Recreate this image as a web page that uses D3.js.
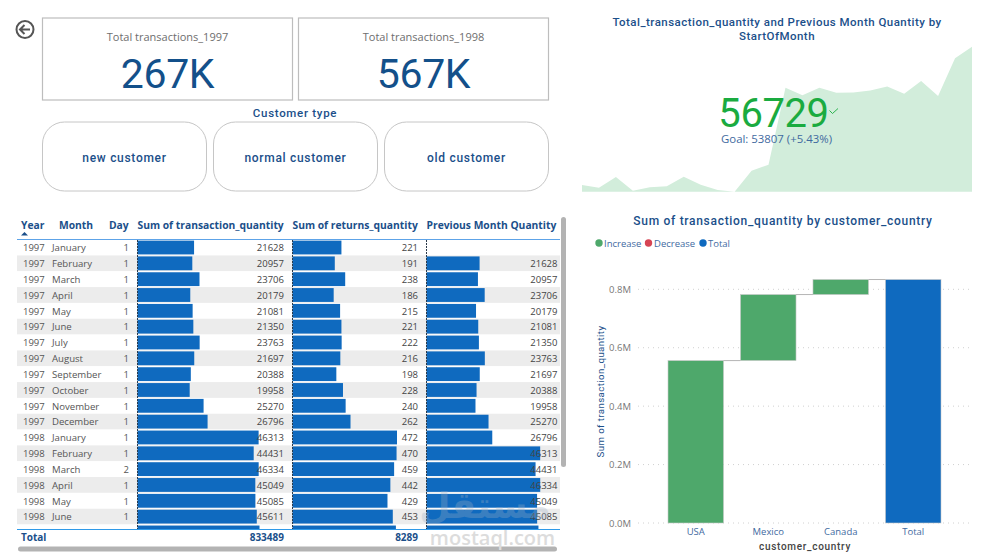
<!DOCTYPE html>
<html>
<head>
<meta charset="utf-8">
<script src="https://cdn.jsdelivr.net/npm/d3@7"></script>
<style>
html, body { margin: 0; padding: 0; background: #fff; overflow: hidden; }
svg { display: block; }
text { font-family: "Open Sans", sans-serif; }
.din { font-family: Roboto, sans-serif; letter-spacing: 0.7px; }
.axisTxt text { font-family: "Open Sans", sans-serif; font-size: 9.5px; }
</style>
</head>
<body>
<svg id="page" width="987" height="559"></svg>
<script>
// table data
var years = ["1997","1997","1997","1997","1997","1997","1997","1997","1997","1997","1997","1997","1998","1998","1998","1998","1998","1998","1998"];
var months = ["January","February","March","April","May","June","July","August","September","October","November","December","January","February","March","April","May","June","July"];
var days = [1,1,1,1,1,1,1,1,1,1,1,1,1,1,2,1,1,1,1];
var transQty = [21628,20957,23706,20179,21081,21350,23763,21697,20388,19958,25270,26796,46313,44431,46334,45049,45085,45611,46650];
var returnQty = [221,191,238,186,215,221,222,216,198,228,240,262,472,470,459,442,429,453,467];
var prevQty = [null,21628,20957,23706,20179,21081,21350,23763,21697,20388,19958,25270,26796,46313,44431,46334,45049,45085,45611];
// last row is cut off by the total row, only its bars show
var labelRows = 18;

// kpi area data, 24 months
var areaQty = [21628,20957,23706,20179,21081,21350,23763,21697,20388,19958,25270,26796,46313,44431,46334,45049,45085,45611,46650,44800,48000,44200,53807,56729];

// waterfall data
var countries = ["USA","Mexico","Canada","Total"];
var countryQty = [556000,226000,51489];
var countryTotal = 833489;
var yTicks = [0,200000,400000,600000,800000];

var navy = "#1b4f8a";
var blue = "#0f6abf";
var green = "#4ea86b";
var svg = d3.select("#page");

var addText = function(txt, x, y, size, color, anchor, cls, weight){
    return svg.append("text")
    .attr("x",x)
    .attr("y",y)
    .attr("font-size",size)
    .attr("fill",color)
    .attr("text-anchor",anchor || "start")
    .attr("class",cls || null)
    .attr("font-weight",weight || null)
    .text(txt);
}

var drawCards = function(){
    // back button
    svg.append("circle").attr("cx",25).attr("cy",29.5).attr("r",8.5)
    .attr("fill","none").attr("stroke","#555").attr("stroke-width",2);
    svg.append("path").attr("d","M30 29.5H20.5M24.5 25L20 29.5L24.5 34")
    .attr("fill","none").attr("stroke","#555").attr("stroke-width",2);

    var cards = [
        {x:42.5, label:"Total transactions_1997", value:"267K"},
        {x:298.5, label:"Total transactions_1998", value:"567K"}
    ];
    cards.forEach(function(c){
        svg.append("rect").attr("x",c.x).attr("y",18).attr("width",250).attr("height",82)
        .attr("fill","#fff").attr("stroke","#bdbdbd").attr("stroke-width",1.2);
        addText(c.label,c.x+125,41,11,"#6e6e6e","middle");
        addText(c.value,c.x+125,88,41,"#13508a","middle","din").style("letter-spacing","-0.4px");
    });

    addText("Customer type",295,117,11.5,navy,"middle","din","500");

    var buttons = [
        {x:42.5, label:"new customer"},
        {x:213.5, label:"normal customer"},
        {x:384.5, label:"old customer"}
    ];
    buttons.forEach(function(b){
        svg.append("rect").attr("x",b.x).attr("y",122).attr("width",164).attr("height",69)
        .attr("rx",22).attr("fill","#fff").attr("stroke","#c6c6c6");
        addText(b.label,b.x+82,161.5,12,navy,"middle","din","500");
    });
}

var drawTable = function(){
    var rowY = d3.scaleBand()
    .domain(d3.range(years.length))
    .range([239.6,239.6+15.83*years.length]);

    var xTrans = d3.scaleLinear().domain([0,d3.max(transQty)]).range([0,122]);
    var xRet = d3.scaleLinear().domain([0,d3.max(returnQty)]).range([0,104.5]);
    var xPrev = d3.scaleLinear().domain([0,d3.max(transQty)]).range([0,114.5]);

    svg.append("clipPath").attr("id","bodyClip").append("rect")
    .attr("x",17).attr("y",239).attr("width",544).attr("height",290);

    var body = svg.append("g").attr("clip-path","url(#bodyClip)");

    var rows = body.selectAll("g.row")
    .data(years)
    .enter()
    .append("g")
    .attr("class","row")
    .attr("transform",function(d,i){ return "translate(0,"+rowY(i)+")"; });

    rows.append("rect")
    .attr("x",17).attr("width",543).attr("height",rowY.bandwidth())
    .attr("fill",function(d,i){ return i%2==1 ? "#ececec" : "#fff"; });

    var barCols = [
        {x:137.5, vals:transQty, scale:xTrans, right:284},
        {x:292.5, vals:returnQty, scale:xRet, right:418},
        {x:426.5, vals:prevQty, scale:xPrev, right:557.5}
    ];

    var labelled = rows.filter(function(d,i){ return i<labelRows; });

    barCols.forEach(function(col){
        rows.append("rect")
        .attr("x",col.x)
        .attr("y",1)
        .attr("height",rowY.bandwidth()-2)
        .attr("width",function(d,i){ return col.vals[i]==null ? 0 : col.scale(col.vals[i]); })
        .attr("fill",blue);

        body.append("line")
        .attr("x1",col.x).attr("x2",col.x).attr("y1",240).attr("y2",529)
        .attr("stroke","#2b3a4a").attr("stroke-width",1).attr("stroke-dasharray","2 1");
    });

    barCols.forEach(function(col){
        labelled.append("text")
        .attr("x",col.right).attr("y",11.7)
        .attr("text-anchor","end").attr("font-size",9.5).attr("fill","#444")
        .text(function(d,i){ return col.vals[i]==null ? "" : col.vals[i]; });
    });

    labelled.append("text").attr("x",23).attr("y",11.7).attr("font-size",9.5).attr("fill","#555")
    .text(function(d){ return d; });
    labelled.append("text").attr("x",52).attr("y",11.7).attr("font-size",9.6).attr("fill","#555")
    .text(function(d,i){ return months[i]; });
    labelled.append("text").attr("x",129).attr("y",11.7).attr("font-size",9.5).attr("fill","#555")
    .attr("text-anchor","end")
    .text(function(d,i){ return days[i]; });

    // headers
    var headers = [
        {t:"Year", x:21},
        {t:"Month", x:59},
        {t:"Day", x:109},
        {t:"Sum of transaction_quantity", x:137.5},
        {t:"Sum of returns_quantity", x:292.5},
        {t:"Previous Month Quantity", x:426.5}
    ];
    headers.forEach(function(h){
        addText(h.t,h.x,228.5,10.3,navy,"start",null,"700");
    });
    svg.append("path").attr("d","M21 235.5L24.5 232L28 235.5Z").attr("fill",navy);
    svg.append("line").attr("x1",17).attr("x2",560).attr("y1",239.5).attr("y2",239.5)
    .attr("stroke","#5da3e8").attr("stroke-width",1);

    // total row
    svg.append("line").attr("x1",17).attr("x2",560).attr("y1",529.5).attr("y2",529.5)
    .attr("stroke","#2f9ae8").attr("stroke-width",1.2);
    addText("Total",21,541,10,navy,"start",null,"700");
    addText("833489",284,541,10,navy,"end",null,"700");
    addText("8289",418,541,10,navy,"end",null,"700");

    // scrollbars
    svg.append("rect").attr("x",561).attr("y",217).attr("width",5).attr("height",250)
    .attr("rx",2.5).attr("fill","#b3b3b3");
    svg.append("rect").attr("x",18).attr("y",546.5).attr("width",539).attr("height",5)
    .attr("rx",2.5).attr("fill","#b3b3b3");
}

var drawKpi = function(){
    var x = d3.scaleLinear().domain([0,areaQty.length-1]).range([582,972]);
    var y = d3.scaleLinear().domain([19958,56729]).range([191.7,46.7]);
    var area = d3.area()
    .x(function(d,i){ return x(i); })
    .y0(191.7)
    .y1(function(d){ return y(d); });

    svg.append("path").datum(areaQty).attr("d",area).attr("fill","#d2eddb");

    addText("Total_transaction_quantity and Previous Month Quantity by",777,26,11.5,navy,"middle","din","500").style("letter-spacing","0.47px");
    addText("StartOfMonth",777,40,11.5,navy,"middle","din","500").style("letter-spacing","0.47px");

    addText("56729",773.5,127,40,"#1aab40","middle","din").style("letter-spacing","-0.4px");
    svg.append("path").attr("d","M829.5 110.5L832.5 113.5L838 108.5")
    .attr("fill","none").attr("stroke","#1aab40").attr("stroke-width",0.9);
    addText("Goal: 53807 (+5.43%)",721,143,11.4,"#3f6a9f","start");
}

var drawWaterfall = function(){
    addText("Sum of transaction_quantity by customer_country",783,225,12,navy,"middle","din","500");

    var legend = [
        {t:"Increase", c:green, cx:599, tx:604},
        {t:"Decrease", c:"#d64554", cx:648.5, tx:654},
        {t:"Total", c:blue, cx:703, tx:708}
    ];
    legend.forEach(function(l){
        svg.append("circle").attr("cx",l.cx).attr("cy",243).attr("r",3.7).attr("fill",l.c);
        addText(l.t,l.tx,247,9.5,"#3f6a9f","start");
    });

    var x = d3.scaleBand().domain(countries).range([668,941]).paddingInner(0.234);
    var y = d3.scaleLinear().domain([0,800000]).range([523,289.3]);

    // grid lines
    svg.append("g").selectAll("line")
    .data(yTicks)
    .enter()
    .append("line")
    .attr("x1",638).attr("x2",970)
    .attr("y1",function(d){ return y(d); })
    .attr("y2",function(d){ return y(d); })
    .attr("stroke","#d0d0d0")
    .attr("stroke-dasharray","1 4");

    // running totals for the waterfall steps
    var steps = [];
    var run = 0;
    countryQty.forEach(function(q,i){
        steps.push({name:countries[i], start:run, end:run+q, color:green});
        run = run+q;
    });
    steps.push({name:"Total", start:0, end:countryTotal, color:blue});

    svg.append("g").selectAll("rect")
    .data(steps)
    .enter()
    .append("rect")
    .attr("x",function(d){ return x(d.name); })
    .attr("width",x.bandwidth())
    .attr("y",function(d){ return y(d.end); })
    .attr("height",function(d){ return y(d.start)-y(d.end); })
    .attr("fill",function(d){ return d.color; })
    .attr("stroke","#c8c8c8")
    .attr("stroke-width",0.6);

    // connectors
    svg.append("g").selectAll("line")
    .data(steps.slice(0,3))
    .enter()
    .append("line")
    .attr("x1",function(d){ return x(d.name)+x.bandwidth(); })
    .attr("x2",function(d,i){ return x(steps[i+1].name); })
    .attr("y1",function(d){ return y(d.end); })
    .attr("y2",function(d){ return y(d.end); })
    .attr("stroke","#b5b5b5");

    var yAxis = d3.axisLeft(y)
    .tickValues(yTicks)
    .tickSize(0)
    .tickPadding(0)
    .tickFormat(function(d){ return (d/1000000).toFixed(1)+"M"; });

    var gy = svg.append("g").attr("class","axisTxt")
    .attr("transform","translate(631,0)")
    .call(yAxis);
    gy.select(".domain").remove();
    gy.selectAll("text").attr("fill","#777");

    var xAxis = d3.axisBottom(x).tickSize(0).tickPadding(0);
    var gx = svg.append("g").attr("class","axisTxt")
    .attr("transform","translate(0,528)")
    .call(xAxis);
    gx.select(".domain").remove();
    gx.selectAll("text").attr("fill","#3f6a9f");

    addText("customer_country",805,550,10,"#444","middle","din","500");

    svg.append("text")
    .attr("transform","translate(604,391.5) rotate(-90)")
    .attr("text-anchor","middle")
    .attr("font-size",9.7)
    .attr("fill",navy)
    .attr("class","din")
    .style("letter-spacing","0.4px")
    .text("Sum of transaction_quantity");
}

var drawWatermark = function(){
    svg.append("text").attr("x",485).attr("y",518).attr("text-anchor","middle")
    .attr("font-size",36).attr("font-weight","700").attr("fill","#9fb0c4").attr("opacity",0.3)
    .style("font-family","'DejaVu Sans'")
    .text("مستقل");
    svg.append("text").attr("x",492.5).attr("y",545).attr("text-anchor","middle")
    .attr("font-size",20).attr("font-weight","600").attr("fill","#dcdcdc")
    .text("mostaql.com");
}

drawCards();
drawTable();
drawKpi();
drawWaterfall();
drawWatermark();
</script>
</body>
</html>
